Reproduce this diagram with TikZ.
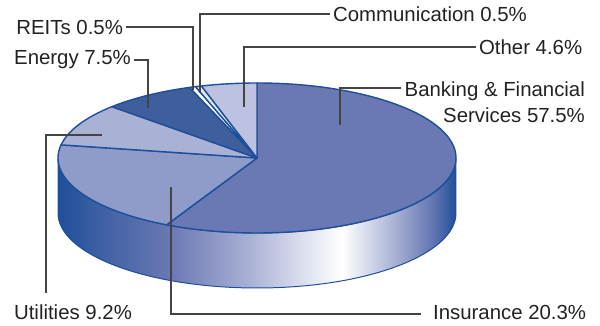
\documentclass[tikz,border=0pt]{standalone}
\usepackage{fontspec}
\setmainfont{Liberation Sans}
\usepackage{xcolor}
\usetikzlibrary{calc}

\definecolor{pieedge}{HTML}{1E4F99}
\definecolor{bankfill}{HTML}{6A78B3}
\definecolor{insfill}{HTML}{8F9BC8}
\definecolor{utilfill}{HTML}{A9B1D5}
\definecolor{energyfill}{HTML}{3F5E9E}
\definecolor{commfill}{HTML}{E4E7F2}
\definecolor{otherfill}{HTML}{BCC2DF}
\definecolor{leadgray}{HTML}{444444}
\definecolor{labelgray}{HTML}{222222}

\pgfdeclarehorizontalshading{sideshade}{100bp}{color(0bp)=(pieedge); color(25bp)=(pieedge);
	color(30bp)=(pieedge!60!bankfill); color(39bp)=(bankfill); color(49bp)=(utilfill);
	color(55bp)=(otherfill!60!white); color(60.7bp)=(white); color(67.5bp)=(insfill!80!white);
	color(72.5bp)=(bankfill!80!pieedge); color(75bp)=(pieedge); color(100bp)=(pieedge)}

\begin{document}
\begin{tikzpicture}[x=0.025cm, y=0.025cm,
		slice/.style={draw=pieedge, line width=1pt, line join=round},
		lead/.style={draw=leadgray, line width=0.8pt},
		lbl/.style={text=labelgray, inner xsep=2pt, inner ysep=0pt, font=\fontsize{14.5}{19}\selectfont}]
		\useasboundingbox (0,0) rectangle (600,326);
		
		\coordinate (C) at (257,168);
		
		% side of the pie
		\shade[shading=sideshade, draw=pieedge, line width=0.7pt]
			(58,168) -- (58,113) arc[start angle=180, end angle=360, x radius=199, y radius=75]
			-- (456,168) arc[start angle=0, end angle=-180, x radius=199, y radius=75] -- cycle;
		
		% top of the pie
		\path [slice, fill=bankfill] (C) -- ($(C)+(90:199 and 75)$) arc[start angle=90, end angle=-117, x radius=199, y radius=75] -- cycle;
		\path [slice, fill=insfill] (C) -- ($(C)+(-117:199 and 75)$) arc[start angle=-117, end angle=-190.08, x radius=199, y radius=75] -- cycle;
		\path [slice, fill=utilfill] (C) -- ($(C)+(-190.08:199 and 75)$) arc[start angle=-190.08, end angle=-223.2, x radius=199, y radius=75] -- cycle;
		\path [slice, fill=energyfill] (C) -- ($(C)+(-223.2:199 and 75)$) arc[start angle=-223.2, end angle=-250.2, x radius=199, y radius=75] -- cycle;
		\path [slice, fill=white] (C) -- ($(C)+(-250.2:199 and 75)$) arc[start angle=-250.2, end angle=-252, x radius=199, y radius=75] -- cycle;
		\path [slice, fill=commfill] (C) -- ($(C)+(-252:199 and 75)$) arc[start angle=-252, end angle=-253.8, x radius=199, y radius=75] -- cycle;
		\path [slice, fill=otherfill] (C) -- ($(C)+(-253.8:199 and 75)$) arc[start angle=-253.8, end angle=-270, x radius=199, y radius=75] -- cycle;
		
		% labels
		\node[lbl, anchor=west] (comm) at (330,312) {Communication 0.5\%};
		\node[lbl, anchor=east] (reits) at (126,299) {REITs 0.5\%};
		\node[lbl, anchor=east] (energy) at (134,266) {Energy 7.5\%};
		\node[lbl, anchor=west] (other) at (476,279) {Other 4.6\%};
		\node[lbl, anchor=north east, align=right] (bank) at (588,245) {Banking \& Financial\\Services 57.5\%};
		\node[lbl, anchor=west] (util) at (11,14) {Utilities 9.2\%};
		\node[lbl, anchor=west] (ins) at (430,14) {Insurance 20.3\%};
		
		% points on the slices
		\coordinate (p-comm) at (200,233);
		\coordinate (p-reits) at (193,236);
		\coordinate (p-energy) at (148,218);
		\coordinate (p-other) at (244,219);
		\coordinate (p-bank) at (340,201);
		\coordinate (p-util) at (102,191);
		\coordinate (p-ins) at (171,139);
		\coordinate (b0) at (401,238);
		\coordinate (u0) at (46,33);
		\coordinate (i0) at (421,12);
		
		% leader lines
		\path [lead] (comm.west) -| (p-comm);
		\path [lead] (reits.east) -| (p-reits);
		\path [lead] (energy.east) -| (p-energy);
		\path [lead] (other.west) -| (p-other);
		\path [lead] (b0) -| (p-bank);
		\path [lead] (u0) |- (p-util);
		\path [lead] (p-ins) |- (i0);
		
\end{tikzpicture}
\end{document}
